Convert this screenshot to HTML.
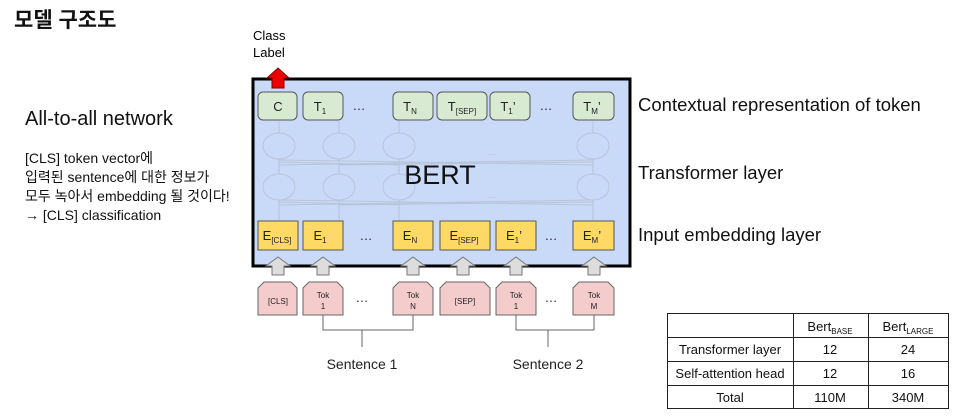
<!DOCTYPE html>
<html><head><meta charset="utf-8"><style>
body{margin:0;width:957px;height:418px;background:#fff;overflow:hidden;position:relative;font-family:"Liberation Sans","Noto Sans CJK KR",sans-serif}
.t{position:absolute;white-space:nowrap;color:#111}
</style></head><body>
<div class="t" style="left:14px;top:4px;font-size:21px;font-weight:bold">모델 구조도</div>
<div class="t" style="left:25px;top:108px;font-size:20px">All-to-all network</div>
<div class="t" style="left:25px;top:149px;font-size:14px;line-height:19px">[CLS] token vector에<br>입력된 sentence에 대한 정보가<br>모두 녹아서 embedding 될 것이다!<br>→ [CLS] classification</div>
<div class="t" style="left:638px;top:94px;font-size:18.5px">Contextual representation of token</div>
<div class="t" style="left:638px;top:162px;font-size:18.5px">Transformer layer</div>
<div class="t" style="left:638px;top:224px;font-size:18.5px">Input embedding layer</div>
<svg width="957" height="418" style="position:absolute;left:0;top:0" font-family="Liberation Sans, sans-serif">
<text x="253" y="40" font-size="13">Class</text><text x="253" y="57" font-size="13">Label</text>
<rect x="253" y="79" width="377" height="187" fill="#c9daf8" stroke="#000" stroke-width="3"/>
<g stroke="#b8c4d8" fill="none" stroke-width="1">
<ellipse cx="279" cy="146" rx="16" ry="13"/><ellipse cx="339" cy="146" rx="16" ry="13"/><ellipse cx="399" cy="146" rx="16" ry="13"/><ellipse cx="593" cy="146" rx="16" ry="13"/>
<ellipse cx="279" cy="187" rx="16" ry="13"/><ellipse cx="339" cy="187" rx="16" ry="13"/><ellipse cx="399" cy="187" rx="16" ry="13"/><ellipse cx="593" cy="187" rx="16" ry="13"/>
<path d="M279 220V200M339 220V200M399 220V200M593 220V200M279 174V159M339 174V159M399 174V159M593 174V159M279 133V121M339 133V121M399 133V121M593 133V121"/>
<path d="M279 205L593 200M593 205L279 200M339 205L593 202M399 205L279 202M279 165L593 160M593 165L279 160M339 165L593 162M399 165L279 162"/>
</g>
<text x="440" y="184" font-size="27" text-anchor="middle" fill="#111">BERT</text>
<polygon points="278,68 289,78 284,78 284,88 272,88 272,78 267,78" fill="#e00" stroke="#800" stroke-width="1"/>
<g fill="#d9ead3" stroke="#555" stroke-width="1">
<rect x="258" y="92" width="39" height="28" rx="5"/><rect x="303" y="92" width="40" height="28" rx="5"/><rect x="393" y="92" width="40" height="28" rx="5"/><rect x="437" y="92" width="50" height="28" rx="5"/><rect x="490" y="92" width="40" height="28" rx="5"/><rect x="573" y="92" width="41" height="28" rx="5"/>
</g>
<g fill="#ffd966" stroke="#555" stroke-width="1">
<rect x="258" y="221" width="40" height="29"/><rect x="303" y="221" width="40" height="29"/><rect x="393" y="221" width="40" height="29"/><rect x="440" y="221" width="50" height="29"/><rect x="496" y="221" width="40" height="29"/><rect x="573" y="221" width="41" height="29"/>
</g>
<g font-size="13" fill="#222" text-anchor="middle">
<text x="278" y="111">C</text>
<text x="320" y="111">T<tspan font-size="8" dy="3">1</tspan></text>
<text x="410" y="111">T<tspan font-size="8" dy="3">N</tspan></text>
<text x="462" y="111">T<tspan font-size="8" dy="3">[SEP]</tspan></text>
<text x="508" y="111">T<tspan font-size="8" dy="3">1</tspan><tspan dy="-3">’</tspan></text>
<text x="592" y="111">T<tspan font-size="8" dy="3">M</tspan><tspan dy="-3">’</tspan></text>
<text x="277" y="240">E<tspan font-size="8" dy="3">[CLS]</tspan></text>
<text x="320" y="240">E<tspan font-size="8" dy="3">1</tspan></text>
<text x="410" y="240">E<tspan font-size="8" dy="3">N</tspan></text>
<text x="464" y="240">E<tspan font-size="8" dy="3">[SEP]</tspan></text>
<text x="514" y="240">E<tspan font-size="8" dy="3">1</tspan><tspan dy="-3">’</tspan></text>
<text x="592" y="240">E<tspan font-size="8" dy="3">M</tspan><tspan dy="-3">’</tspan></text>
<text x="359" y="110">…</text><text x="546" y="110">…</text><text x="366" y="240">…</text><text x="551" y="240">…</text>
<text x="493" y="155" font-size="9" fill="#bbb">…</text><text x="493" y="198" font-size="9" fill="#bbb">…</text>
<text x="362" y="302">…</text><text x="551" y="302">…</text>
</g>
<g fill="#ddd" stroke="#777" stroke-width="1">
<polygon points="278,257 290,266 284,266 284,275 272,275 272,266 266,266"/>
<polygon points="323,257 335,266 329,266 329,275 317,275 317,266 311,266"/>
<polygon points="413,257 425,266 419,266 419,275 407,275 407,266 401,266"/>
<polygon points="463,257 475,266 469,266 469,275 457,275 457,266 451,266"/>
<polygon points="516,257 528,266 522,266 522,275 510,275 510,266 504,266"/>
<polygon points="594,257 606,266 600,266 600,275 588,275 588,266 582,266"/>
</g>
<g fill="#f4cccc" stroke="#666" stroke-width="1">
<path d="M258 315V288L264 282H291L297 288V315Z"/>
<path d="M303 315V288L309 282H337L343 288V315Z"/>
<path d="M393 315V288L399 282H427L433 288V315Z"/>
<path d="M440 315V288L446 282H484L490 288V315Z"/>
<path d="M496 315V288L502 282H530L536 288V315Z"/>
<path d="M573 315V288L579 282H608L614 288V315Z"/>
</g>
<g font-size="8" fill="#222" text-anchor="middle">
<text x="278" y="304">[CLS]</text><text x="465" y="304">[SEP]</text>
<text x="323" y="298">Tok</text><text x="323" y="309">1</text>
<text x="413" y="298">Tok</text><text x="413" y="309">N</text>
<text x="516" y="298">Tok</text><text x="516" y="309">1</text>
<text x="594" y="298">Tok</text><text x="594" y="309">M</text>
</g>
<path d="M323 315V330H413V315M362 330V347M516 315V330H594V315M548 330V347" stroke="#666" fill="none"/>
<text x="362" y="369" font-size="14" text-anchor="middle" fill="#222">Sentence 1</text>
<text x="548" y="369" font-size="14" text-anchor="middle" fill="#222">Sentence 2</text>
<g stroke="#222" stroke-width="1" fill="none">
<rect x="667.5" y="313.5" width="281" height="95"/>
<path d="M667 337.5H949M667 361.5H949M667 385.5H949M793.5 313V409M868.5 313V409"/>
</g>
<g font-size="13" fill="#111" text-anchor="middle">
<text x="830" y="331">Bert<tspan font-size="8" dy="3">BASE</tspan></text>
<text x="908" y="331">Bert<tspan font-size="8" dy="3">LARGE</tspan></text>
<text x="730" y="354">Transformer layer</text><text x="830" y="354">12</text><text x="908" y="354">24</text>
<text x="730" y="378">Self-attention head</text><text x="830" y="378">12</text><text x="908" y="378">16</text>
<text x="730" y="402">Total</text><text x="830" y="402">110M</text><text x="908" y="402">340M</text>
</g>
</svg>
</body></html>
